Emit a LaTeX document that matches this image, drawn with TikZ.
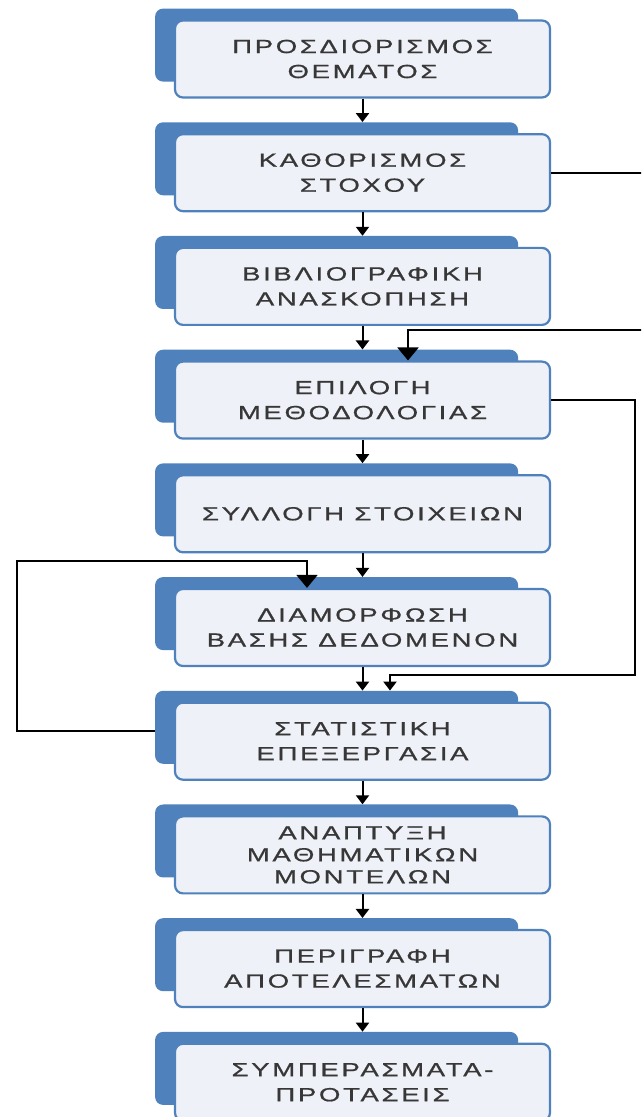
\documentclass[tikz,border=0pt]{standalone}
\usepackage{fontspec}
\newfontfamily\stagefont[LetterSpace=14, FakeStretch=1.45, FakeBold=0.8]{Liberation Sans}
\usetikzlibrary{arrows.meta, positioning, backgrounds}
\definecolor{tabblue}{RGB}{79,129,189}
\definecolor{boxfill}{RGB}{238,241,247}
\definecolor{textgray}{RGB}{55,55,55}
\tikzset{
  stage/.style={draw=tabblue, line width=2.2pt, rounded corners=8pt, fill=boxfill,
    minimum width=375pt, minimum height=77pt, inner sep=2pt, align=center, text=textgray,
    font={\stagefont\fontsize{19pt}{25pt}\selectfont}},
  tab/.style={fill=tabblue, rounded corners=8pt, minimum width=363pt, minimum height=73pt,
    anchor=north west, inner sep=0pt},
  arr/.style={-{Triangle[length=9pt, width=13pt]}, line width=2pt},
  fbarr/.style={-{Triangle[length=13pt, width=21pt]}, line width=2pt},
}
\begin{document}
\begin{tikzpicture}[x=1pt, y=1pt, node distance=34.5pt]
  \useasboundingbox (0,0) rectangle (641,1117);
  \clip (0,0) rectangle (641,1117);
  % stages
  \node[stage] (s1) at (362.5,1058) {ΠΡΟΣΔΙΟΡΙΣΜΟΣ\\ΘΕΜΑΤΟΣ};
  \node[stage, below=of s1] (s2) {ΚΑΘΟΡΙΣΜΟΣ\\ΣΤΟΧΟΥ};
  \node[stage, below=of s2] (s3) {ΒΙΒΛΙΟΓΡΑΦΙΚΗ\\ΑΝΑΣΚΟΠΗΣΗ};
  \node[stage, below=of s3] (s4) {ΕΠΙΛΟΓΗ\\ΜΕΘΟΔΟΛΟΓΙΑΣ};
  \node[stage, below=of s4] (s5) {ΣΥΛΛΟΓΗ ΣΤΟΙΧΕΙΩΝ};
  \node[stage, below=of s5] (s6) {ΔΙΑΜΟΡΦΩΣΗ\\ΒΑΣΗΣ ΔΕΔΟΜΕΝΟΝ};
  \node[stage, below=of s6] (s7) {ΣΤΑΤΙΣΤΙΚΗ\\ΕΠΕΞΕΡΓΑΣΙΑ};
  \node[stage, below=of s7, font={\stagefont\fontsize{19pt}{22pt}\selectfont}] (s8) {ΑΝΑΠΤΥΞΗ\\ΜΑΘΗΜΑΤΙΚΩΝ\\ΜΟΝΤΕΛΩΝ};
  \node[stage, below=of s8] (s9) {ΠΕΡΙΓΡΑΦΗ\\ΑΠΟΤΕΛΕΣΜΑΤΩΝ};
  \node[stage, below=of s9] (s10) {ΣΥΜΠΕΡΑΣΜΑΤΑ-\\ΠΡΟΤΑΣΕΙΣ};
  % blue tabs behind the stages
  \begin{scope}[on background layer]
    \foreach \i in {1,...,10}
      \node[tab] (t\i) at ([shift={(-19,11)}]s\i.north west) {};
  \end{scope}
  % main flow
  \foreach \i/\j in {1/2, 2/3, 3/4, 4/5, 5/6, 6/7, 7/8, 8/9, 9/10}
    \draw[arr] (s\i.south) -- (s\i.south |- t\j.north);
  % feedback lines
  \coordinate (k1) at (652,787);
  \coordinate (k2) at (635,442);
  \coordinate (k3) at (17,556);
  \draw[fbarr] (s2.east) -| (k1) -| ([xshift=45.5]s4.north);
  \draw[arr] (s4.east) -| (k2) -| ([xshift=27.5]s7.north |- t7.north);
  \draw[fbarr] ([yshift=-4pt]t7.west) -| (k3) -| ([xshift=-55.5]s6.north);
\end{tikzpicture}
\end{document}
